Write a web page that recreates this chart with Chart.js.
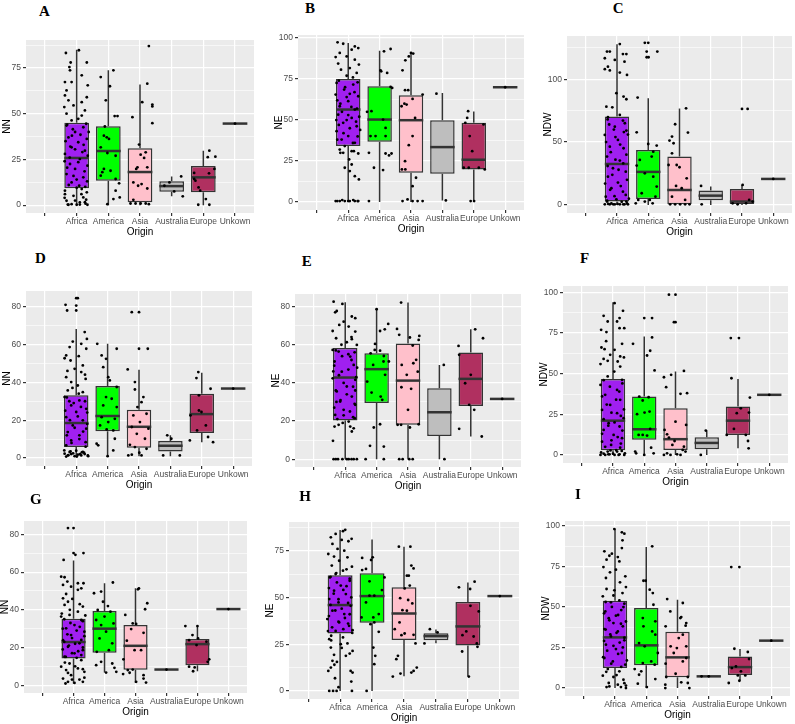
<!DOCTYPE html>
<html lang="en">
<head>
<meta charset="UTF-8">
<title>Origin boxplots</title>
<script src="https://cdn.jsdelivr.net/npm/chart.js"></script>
<style>
  body { margin: 0; background: #fff; }
  #wrap { position: relative; width: 795px; height: 724px; overflow: hidden; }
  #wrap canvas { position: absolute; }
  .tag {
    position: absolute;
    font-family: "Liberation Serif", "Times New Roman", serif;
    font-weight: bold;
    font-size: 15px;
    line-height: 15px;
    color: #000;
  }
</style>
</head>
<body>
<div id="wrap"></div>
<script>
const categories = ['', 'Africa', 'America', 'Asia', 'Australia', 'Europe', 'Unkown'];
const boxFill = ['#a020f0', '#00ff00', '#ffc0cb', '#bebebe', '#b03060', '#333333'];

// each box row: [lower whisker, q1, median, q3, upper whisker], order Africa..Unkown
// each point: [jitter offset from the category, value]

// A - NN
const boxA = [[0, 9.3, 25.8, 45, 85], [0, 13.4, 29.6, 43.2, 73.7], [0, 1.6, 18.1, 31.1, 66], [4.8, 7.3, 10.4, 13, 15.7], [0, 7, 15.2, 21.4, 29.8], [44.6, 44.6, 44.6, 44.6, 44.6]];
const ptsA = [
  [[-.34,83.2],[.07,84.7],[-.19,78],[.32,78],[-.23,75.5],[-.21,73.7],[.16,71],[-.37,67.3],[-.16,67.3],[.35,65.5],[-.32,62.7],[-.37,60],[.32,59],[-.26,57.3],[.16,56.3],[-.1,54.5],[-.39,53.6],[.26,51.8],[-.32,50],[.16,49],[-.16,46.3],[.05,47.2],[-.32,43.5],[.21,42.6],[-.05,40],[-.26,37],[.32,36.2],[.05,34.4],[-.16,31.6],[.26,29.8],[-.37,28],[.1,25.2],[-.21,22.5],[.34,21.6],[-.05,19.8],[-.32,17],[.21,15.2],[-.16,12.4],[.08,10.6],[-.37,7.9],[.32,7],[-.1,5.1],[.21,4.2],[-.32,2.4],[.1,1.5],[-.26,0.2],[0,0.2],[.34,0.2],[-.16,0.5],[.26,1.6],[-.37,6],[.16,8.8],
   [-.3,44],[.3,44.5],[-.12,41.5],[.12,38.5],[-.35,35],[.22,33],[-.05,30.5],[.35,27],[-.22,26],[.05,23.5],[-.3,20.5],[.25,18.5],[-.1,16],[.33,13],[-.25,11],[0,9.5],[-.38,4],[.3,3],[-.05,2.5],[.15,6],[-.28,0.3],[.1,0.3],[.28,0.8],[-.15,38],[.18,29],[-.38,24],[.38,40],[0,14],[-.2,32],[.27,10]],
  [[-.24,70],[.16,73.7],[-.08,57.3],[.05,65],[.2,48.7],[.29,48.7],[-.11,43],[-.14,38],[-.05,37.1],[.02,36.2],[-.24,31.6],[-.03,28.5],[.23,27],[-.14,19.8],[.07,18.8],[-.24,16.1],[.23,14.3],[.34,11.9],[-.19,18],[.23,7.9],[.16,3.3],[.36,4.2],[-.03,0.5]],
  [[.28,87],[.23,66.4],[.39,55],[.39,54],[.07,56.3],[-.24,48.1],[.39,44.8],[-.03,33.1],[.02,27.6],[.18,28.9],[.13,25.8],[-.08,20.7],[-.12,19.8],[.23,20.7],[-.21,12.4],[.05,11.5],[-.06,10.6],[.23,9.1],[-.3,0.9],[-.14,0.9],[.02,0.9],[.18,0.9],[.28,0.5],[-.21,2.9]],
  [[-.23,10.6],[.3,15.7],[.35,4.8],[-.07,12.4],[.08,7.5]],
  [[-.16,0.2],[.19,0.2],[.08,3.3],[-.29,17.6],[-.25,13.4],[-.15,9.7],[-.1,7.9],[.18,17.4],[.19,29.8],[.38,26.5],[.14,26.2],[.35,19.8],[-.29,14.3]],
  [[0,44.6]]
];

// B - NE
const boxB = [[0, 34.1, 56.4, 75, 97], [0, 36.7, 50.3, 70.6, 92.3], [0, 17.8, 49.9, 65.1, 90.9], [1, 17.2, 33.5, 49.9, 66.5], [0, 19.9, 25.8, 48.3, 55.2], [70, 70, 70, 70, 70]];
const ptsB = [
  [[-.34,97.4],[-.16,96.5],[.21,94.9],[.32,93.9],[.11,92.9],[-.27,90.9],[-.4,88.4],[-.05,88.8],[.21,86.8],[-.32,84.4],[.34,83.8],[.05,81.7],[-.23,80.7],[.27,78.7],[-.37,72.6],[.16,71.6],[-.13,68.6],[-.4,65.5],[.32,64.5],[0,61.5],[-.27,58.4],[.21,56.4],[-.32,53.3],[.11,51.3],[-.16,48.3],[.27,46.2],[-.37,43.2],[0,40.2],[-.21,38.1],[.21,36.1],[-.11,34.1],[-.27,32],[.11,31],[-.16,30],[.32,29.6],[.03,26],[.11,22.9],[-.11,20.9],[.21,15.8],[.34,13.8],[.05,18.9],[-.4,0.6],[-.27,0.6],[-.11,0.6],[.05,0.6],[.21,0.6],[.32,0.6],[-.19,1.2],[.16,1.2],
   [-.3,74],[.3,73],[-.1,70],[.2,67],[-.35,62],[.1,58],[-.2,55],[.35,52],[-.05,50],[.25,49],[-.3,47],[.05,45],[-.15,42],[.3,40],[-.35,38],[.15,36],[-.05,64],[.05,66],[-.25,60],[.28,57],[.38,44],[-.38,50],[0,53],[.18,31],[-.25,30],[.3,0.6],[-.35,0.6],[0,0.6],[-.05,77],[.15,76]],
  [[.35,93.3],[.14,91.9],[.03,80.3],[.24,78.7],[.05,79.7],[.35,70.2],[.4,69.6],[-.26,55.4],[-.4,55],[.11,50.3],[-.29,40.2],[-.13,40.2],[.19,45.2],[.19,40.2],[-.34,30],[.19,29.6],[.3,28.4],[.38,29.6],[-.18,20.9],[.11,19.5],[-.34,0.6]],
  [[-.18,86.4],[-.07,88.8],[0,90.9],[.07,90.5],[-.27,80.3],[-.09,68.2],[-.19,68.2],[-.3,58.4],[-.21,60],[-.14,59.4],[.05,62.9],[.37,65.5],[.13,51.3],[.05,40.2],[-.07,34.7],[-.19,24.9],[-.29,19.9],[-.18,19.9],[.05,9.7],[.16,14.8],[-.27,0.6],[-.11,1.6],[.05,0.6],[.21,0.6],[.37,0.6]],
  [[-.19,66.1],[.11,1]],
  [[-.18,55.4],[-.21,51.3],[-.27,48.3],[-.13,40.2],[-.05,31],[-.16,20.9],[-.32,20.9],[.16,20.9],[.35,19.9],[.31,47.3],[-.1,0.6],[.01,0.6]],
  [[0,70]]
];

// C - NDW
const boxC = [[0, 2.7, 32.6, 70.3, 127.9], [0, 4.8, 26.3, 43.8, 84.9], [0, 0, 11.9, 38.5, 76.7], [0, 3.7, 7.4, 11.4, 14.6], [0, 0.8, 2.7, 12.7, 15.9], [20.7, 20.7, 20.7, 20.7, 20.7]];
const ptsC = [
  [[-.32,122],[-.23,122],[.09,128],[.19,120],[.3,120],[-.39,116.7],[-.07,115.4],[.24,114],[-.29,110],[-.39,108],[-.23,107],[.09,105.3],[.32,103.4],[-.02,88.9],[.21,86.2],[.3,84.1],[-.34,78.2],[-.15,77.7],[.09,71.6],[-.29,69.8],[.19,67.1],[-.07,62.3],[.3,59.2],[-.39,55.7],[.03,51.7],[-.23,46.4],[.21,45.1],[-.32,38.5],[.09,35.3],[-.13,29.2],[.28,26.5],[-.29,22.5],[.03,17.8],[-.18,13.3],[.19,10.6],[-.36,6.6],[-.02,4.5],[-.32,2.7],[.3,2.7],[-.39,0.5],[-.23,0.5],[-.07,0.5],[.09,0.5],[.24,0.5],[.35,0.5],[-.18,1.3],
   [-.3,68],[.25,65],[-.1,60],[.35,56],[-.35,50],[.1,48],[-.2,42],[.3,40],[-.05,36],[.2,33],[-.3,31],[.05,28],[-.15,24],[.32,20],[-.38,17],[.12,15],[-.22,12],[.28,8],[-.08,7],[.38,5],[-.32,3.5],[.15,2.5],[-.12,0.5],[.02,0.8],[.32,1.2],[-.28,0.8],[.2,0.5],[-.05,54],[.22,58],[-.25,64]],
  [[-.11,129],[0,129],[-.05,122],[.29,122],[-.05,117.5],[.01,117.5],[-.34,85.4],[-.37,57.8],[0,48.5],[.27,47.2],[.16,42.4],[.11,38.5],[-.27,35.8],[-.37,31.3],[-.11,25.2],[.16,22.5],[.27,14.6],[-.21,9.3],[.23,6.6],[-.32,4],[-.11,2.7],[.05,4],[-.4,1.3],[.14,1.3]],
  [[.21,76.9],[-.14,64.2],[-.32,51.2],[-.24,54.4],[-.19,49.1],[.27,57.6],[-.24,41.1],[-.09,31.8],[0,30],[-.35,31.8],[.23,21.2],[-.11,15.1],[.07,13.3],[-.24,6.6],[.18,4],[-.3,0.5],[-.14,0.5],[.02,0.5],[.18,0.5],[.32,0.5]],
  [[-.31,15.1],[-.29,0.5]],
  [[0,76.4],[.18,76.4],[.02,15.9],[-.3,1.3],[-.14,0.5],[.23,4],[.34,2.7],[.13,1.3]],
  [[0,20.7]]
];

// D - NN
const boxD = [[0.8, 5.8, 18.5, 33.2, 68.2], [1, 14.2, 22.2, 38, 60.3], [1, 5.5, 16.5, 25.5, 46.6], [1, 3.5, 6.5, 9, 12], [8.4, 13.2, 23.2, 33.9, 45], [36.7, 36.7, 36.7, 36.7, 36.7]];
const ptsD = [
  [[0,84.4],[.05,84.4],[0,80.5],[0,77.9],[-.34,80.9],[-.29,77.9],[.27,66.5],[.34,62.9],[-.11,61.5],[.16,60.3],[-.21,58.6],[.32,57.7],[-.32,54.2],[.08,53.8],[-.18,51.5],[-.37,52.7],[.21,48.9],[-.05,47.1],[.16,45.4],[-.32,42.7],[.3,41.8],[-.16,40.1],[.05,38.3],[-.27,35.7],[.21,34.8],[-.37,32.2],[.1,30.4],[-.16,27.8],[.32,26],[0,24.3],[-.32,21.6],[.21,19.9],[-.11,17.2],[.32,15.5],[-.27,13.7],[.1,12],[-.16,9.3],[.3,8.4],[-.32,6.7],[-.37,2.3],[-.27,1.4],[-.16,2.1],[-.05,1],[.05,1.8],[.16,1.4],[.27,2.1],[.37,1.4],[-.21,3.2],[.21,3.2],[0,3.9],
   [-.3,32],[.28,30],[-.08,29],[.15,27],[-.35,25],[.05,22],[-.2,20],[.35,18],[-.05,16],[.22,14],[-.3,12],[.1,10],[-.15,8],[.3,6],[-.38,4],[.18,3],[-.1,2.5],[.38,1],[-.25,1.5],[.02,0.8],[.12,2],[-.32,0.8],[.25,2.8],[-.18,3.5],[.35,24],[-.22,30],[.08,34],[-.12,37],[.28,44],[-.28,46]],
  [[-.33,60.3],[.29,57.7],[-.19,54.2],[-.05,52.4],[-.14,48],[.02,42.7],[.07,41],[.29,37.5],[-.05,32.2],[.13,31.3],[.29,26.9],[-.14,27.8],[-.19,21.6],[.23,20.7],[-.24,17.2],[.02,19],[.18,14.6],[-.03,15.1],[-.35,7.6],[-.3,6.7],[.18,4],[.23,10.2],[0,1]],
  [[-.23,77],[0,77],[0,57.7],[.28,57.7],[-.36,46.8],[-.13,40.1],[-.13,36.2],[.14,32.2],[.08,29.5],[-.05,26.9],[-.18,22.5],[.24,23.4],[.03,19],[-.23,16.4],[.3,15.5],[-.07,12.8],[.19,10.2],[-.29,7],[-.13,5.8],[.24,4.9],[-.34,1.4],[-.23,1.8],[.08,1.4],[.01,2.8]],
  [[-.23,1.4],[.3,1.4],[-.1,12],[.03,10.2]],
  [[-.11,45.4],[-.17,42.2],[.28,36.6],[-.09,33.1],[-.36,22.5],[-.09,25.1],[-.01,24.3],[-.15,14.6],[.13,17.2],[.2,11.1],[-.38,9.3],[.36,8.4]],
  [[0,36.7]]
];

// E - NE
const boxE = [[0, 20.3, 42.8, 58.3, 82.3], [0, 29.5, 47.2, 55.5, 79.1], [0, 18, 41.2, 60.6, 82.1], [0, 12.2, 24.6, 37.2, 49.4], [11.9, 27.9, 42.1, 55.9, 68.1], [31.6, 31.6, 31.6, 31.6, 31.6]];
const ptsE = [
  [[-.37,82.6],[-.09,81.4],[-.32,77],[-.27,77.7],[.21,74.8],[.32,73.9],[-.05,72.1],[-.19,70.4],[.11,69.5],[-.4,67.2],[.32,66.9],[-.29,63.4],[.21,62.9],[.05,61.3],[-.4,57.3],[.37,59.9],[-.21,56.4],[.16,53.8],[-.34,51.2],[.27,49.4],[-.11,45.9],[-.4,42.4],[.32,41.6],[.05,38.1],[-.27,35.5],[.21,32.8],[-.16,30.2],[.32,28.5],[-.05,25.9],[-.32,23.2],[.3,21.5],[.11,19.7],[-.21,18],[.16,17.1],[.27,16.2],[-.34,17.1],[.21,14.5],[-.39,9.6],[-.37,0],[-.23,0],[-.09,0],[.11,0],[.27,0],[.37,0],
   [-.3,57],[.3,56],[-.1,54],[.2,52],[-.35,49],[.1,47],[-.2,44],[.35,43],[-.05,40],[.25,38],[-.3,36],[.05,34],[-.15,31],[.3,29],[-.35,27],[.15,25],[-.05,23],[.25,22],[-.25,21],[.1,55],[-.38,46],[.38,48],[-.12,60],[.2,64],[-.28,30],[.05,0],[.2,0],[-.3,0],[.32,36],[-.08,19]],
  [[0,78.6],[.37,70.9],[.26,68.1],[.11,67.2],[-.05,60.4],[-.19,55.5],[-.06,57.3],[.11,56.9],[.23,54.1],[.39,51.2],[-.11,49.4],[.22,51.2],[.27,44.2],[-.3,40.7],[-.16,34.9],[.13,32.8],[.18,31.1],[-.09,16.6],[.11,18.3],[-.21,7],[.23,6.6],[-.35,0],[.23,0]],
  [[-.22,82.1],[-.35,68.3],[-.28,65.2],[.06,63.8],[.36,64.6],[.34,62.5],[.15,59.6],[.26,52.1],[.17,50.3],[.31,45.9],[-.2,49.4],[-.04,44.2],[-.21,37.7],[.1,36.9],[0,25.9],[-.33,18],[-.22,18],[.34,18.3],[.06,16.6],[-.28,0],[-.17,0],[.04,0],[.15,0]],
  [[.14,49.4],[.16,0]],
  [[-.39,59.4],[-.37,54.7],[.14,68.1],[.39,63.4],[0,44.2],[-.18,39.8],[-.05,28.5],[.11,25.9],[-.37,15.9],[.35,11.9]],
  [[0,31.6]]
];

// F - NDW
const boxF = [[0, 2.9, 21.1, 46.8, 94], [0, 9.4, 15.8, 35.9, 72.9], [0, 3.1, 9.7, 28.7, 51.3], [0, 3.5, 7.4, 10.9, 15], [4.1, 12.3, 21.1, 29.8, 46.8], [37, 37, 37, 37, 37]];
const ptsF = [
  [[.05,93.4],[.32,88.7],[-.3,85.6],[.21,84.2],[.13,82.1],[-.17,82.1],[-.38,77],[.36,78],[.21,78],[-.21,75.6],[-.37,66.1],[-.27,65.1],[.29,68.4],[.05,64.7],[-.09,61.6],[.23,60.6],[-.3,59.1],[-.17,57.9],[.15,57.5],[-.4,55.9],[.23,54.4],[.04,51.3],[-.17,48.3],[.29,46.2],[-.4,43.1],[.13,40],[-.25,37],[.23,33.9],[-.09,30.8],[-.35,27.7],[.13,25.7],[.34,22.6],[-.14,19.5],[.21,17.5],[-.3,15.4],[.02,12.3],[.29,10.3],[-.35,8.2],[-.06,6.2],[.23,4.5],[-.4,0],[-.25,0],[-.11,0.4],[.05,0],[.21,0.4],[.36,0],[-.17,2.1],[.13,2.1],
   [-.3,46],[.3,44],[-.1,42],[.2,39],[-.35,36],[.1,34],[-.2,31],[.35,28],[-.05,26],[.25,24],[-.3,22],[.05,20],[-.15,18],[.3,15],[-.35,13],[.15,11],[-.05,9],[.25,7],[-.25,5],[.1,3],[-.38,1.5],[.38,1],[-.15,0.4],[0,0.8],[.18,0],[-.3,0.8],[.28,2.5],[-.08,2.8],[.35,60],[-.22,70]],
  [[0,84.2],[.25,84.2],[.25,72.3],[-.36,68.4],[.19,64.1],[.09,61.2],[.33,52],[-.05,33.5],[.14,35.5],[-.16,35.9],[.17,26.7],[.01,26.1],[-.23,25.1],[-.05,12.3],[.09,11.9],[-.18,12.3],[.19,16],[-.29,2.1],[-.26,1],[.22,4.5],[.3,1],[0,0]],
  [[-.21,98.6],[0,98.6],[-.05,81.7],[0,81.7],[-.37,47.8],[-.3,41.7],[-.14,49.3],[.27,51.7],[.16,37.6],[.37,38],[0,20.5],[.34,18.5],[-.35,15.4],[-.27,12.7],[-.21,10.7],[-.1,6.2],[-.03,8.6],[.27,5.1],[.23,3.1],[.32,2.1],[-.37,0],[-.27,1],[-.16,0],[.05,0.4],[.16,0]],
  [[-.19,0],[-.03,15]],
  [[-.23,71.9],[.03,71.9],[-.21,47.2],[-.36,12.3],[-.13,16],[-.04,25.7],[.09,28.7],[.35,26.1],[.38,35.3],[.25,12.3],[.32,8.6],[.34,4.1]],
  [[0,37]]
];

// G - NN
const boxG = [[0.9, 14.2, 22.9, 35.3, 66.2], [6.7, 17.2, 30, 39.4, 54.1], [1.2, 8.2, 20.9, 31.9, 51.4], [8.3, 8.3, 8.3, 8.3, 8.3], [7.4, 10.6, 21.8, 24.5, 31.4], [40.4, 40.4, 40.4, 40.4, 40.4]];
const ptsG = [
  [[-.18,83.4],[0,83.4],[0,70.1],[.06,69.2],[.32,70.1],[-.32,66.5],[-.4,57.6],[-.29,57.3],[-.2,55],[-.34,53.2],[.14,54.1],[.32,54.1],[-.08,52.3],[.25,51.4],[.14,50.6],[-.24,48.4],[-.34,46.1],[-.04,45.8],[-.18,44.3],[.3,41.7],[-.29,42.6],[.14,39],[-.13,37.3],[-.4,36.4],[.25,34.6],[.03,31.9],[-.24,30.2],[.35,28.4],[-.08,26.6],[-.34,23.9],[.19,22.2],[-.18,20.4],[.3,18.6],[.03,16.9],[-.29,15.1],[.25,13.3],[-.13,11.5],[-.4,9.8],[.14,8.9],[-.24,8],[.35,7.1],[-.08,5.3],[-.34,3.5],[.19,3],[-.18,1.8],[.03,1.2],[.3,1.8],[-.26,0.9],
   [-.3,35],[.3,34],[-.1,33],[.2,31],[-.35,30],[.1,29],[-.2,27],[.35,26],[-.05,25],[.25,24],[-.3,23],[.05,22],[-.15,21],[.3,20],[-.35,19],[.15,18],[-.05,17],[.25,16],[-.25,15],[.1,14.5],[-.38,38],[.38,37],[-.12,40],[.2,43],[-.28,12],[.05,10],[.3,8.5],[-.18,6.5],[.35,4],[-.05,3]],
  [[-.34,48.8],[-.11,49.7],[.27,54.5],[-.05,44.3],[.11,42],[-.22,39.9],[.19,39],[0,36.4],[-.27,34.6],[-.11,31.9],[.29,32.8],[.05,28.4],[-.16,24.8],[.25,22.2],[-.25,17.7],[.14,18.6],[-.11,12.4],[-.27,10.6],[.25,11.5],[.05,6.7],[.32,9.2],[.38,7.1]],
  [[.11,51.4],[.08,50.9],[.38,43.5],[.31,40.3],[-.33,37.3],[-.09,32.8],[.02,32.5],[-.14,29.8],[.26,27.8],[-.28,23.6],[-.03,18.6],[-.39,13.7],[.18,18.6],[-.25,8],[-.09,8.3],[-.4,5.9],[-.19,6.6],[.26,5.3],[.26,3.5],[.02,1.8],[.34,1.4]],
  [[0,8.3]],
  [[-.39,31.4],[0,31.4],[-.16,26.6],[.02,24.8],[-.27,23.9],[.29,23.1],[-.03,21.3],[.33,12.4],[.38,13.7],[-.27,9.8],[-.14,7.4],[-.09,9.4]],
  [[0,40.4]]
];

// H - NE
const boxH = [[0, 30.7, 45.9, 61.8, 86], [0, 36.4, 50.7, 62.9, 81], [7.9, 27.3, 41.4, 55.4, 77.1], [25.5, 27.1, 29.3, 30.9, 32.9], [7.7, 24.3, 34.5, 47.5, 58], [50.7, 50.7, 50.7, 50.7, 50.7]];
const ptsH = [
  [[-.14,83.9],[.09,85.4],[.16,86.1],[-.29,82.1],[.05,80.7],[.36,81.3],[-.24,78.6],[.26,80],[-.08,75.9],[.13,75],[-.37,73.2],[-.19,71.8],[.23,71.4],[-.03,69.6],[-.26,67],[.37,66.4],[.09,64.3],[-.14,62.5],[-.32,60.7],[.3,58.9],[.02,56.3],[-.19,53.6],[.18,51.8],[-.34,49.1],[-.05,47.3],[.33,45.5],[-.24,42.9],[.13,41.1],[-.4,38.4],[-.03,36.6],[.28,34.8],[-.14,32.1],[.39,32.5],[-.28,29.5],[.09,28.6],[-.34,27.7],[.23,25.4],[.02,25],[-.29,23.2],[.39,21.4],[-.19,19.3],[.18,18.8],[-.24,16.1],[-.1,15.5],[.33,10.7],[-.37,10.7],[-.29,12.5],[-.16,6.8],[.39,9.8],[-.34,0],[-.22,0],[-.11,0],[.37,0],
   [-.3,61],[.3,60],[-.1,58],[.2,56],[-.35,55],[.1,54],[-.2,52],[.35,50],[-.05,49],[.25,47],[-.3,46],[.05,44],[-.15,43],[.3,41],[-.35,40],[.15,39],[-.05,37],[.25,36],[-.25,34],[.1,33],[-.38,32],[.38,31],[-.12,63],[.2,65],[-.28,27],[.05,23],[.3,20],[-.18,14],[.35,5],[-.05,2]],
  [[-.31,71.1],[-.03,70],[.02,71.4],[-.19,65.2],[-.31,64.6],[.39,60.7],[-.08,58.6],[.31,53.9],[-.08,50.9],[.07,50.9],[-.19,47.3],[-.33,39.3],[.04,39.3],[.21,41.1],[-.05,35.7],[.07,36.6],[.21,31.6],[.04,23.2],[.1,18.8],[.07,14.3],[-.17,0]],
  [[-.16,77.1],[.2,77.1],[.09,61.6],[.15,61.6],[.23,67],[.3,65.5],[-.12,49.6],[.13,48.6],[.02,54.8],[.18,56.3],[-.05,43.2],[.09,42.9],[.26,46.8],[-.14,36.6],[-.29,33],[-.08,29.8],[.02,30.7],[.3,30],[.36,25.4],[-.19,18.8],[-.24,17],[-.11,9.3],[-.35,7.7],[.23,9.8],[.3,10.7],[.4,12.5]],
  [[-.36,25.4],[-.19,33],[.05,31.3]],
  [[-.28,55.4],[.21,58.4],[.07,54.5],[.08,45.5],[.34,42.5],[-.17,29.8],[-.05,31.8],[.18,29.1],[.28,25.4],[.3,23.6],[-.18,21.1],[.03,7.7]],
  [[0,50.7]]
];

// I - NDW
const boxI = [[0, 12.3, 31.2, 53.8, 97.9], [0, 14, 26.3, 49.3, 86.9], [0, 6.6, 18.9, 34.7, 54.4], [7.2, 7.2, 7.2, 7.2, 7.2], [4.5, 8, 12.9, 19.5, 24], [29.2, 29.2, 29.2, 29.2, 29.2]];
const ptsI = [
  [[-.02,97.9],[.22,95.9],[.3,95.1],[.24,91],[.22,86.2],[-.34,84.2],[-.1,82.8],[-.18,81.5],[.09,80.7],[-.27,79.1],[.14,78],[-.37,74.5],[.03,72.9],[-.16,71.3],[.33,68.8],[-.29,67.8],[.16,65.1],[.35,62.2],[-.27,61],[-.02,60.2],[.24,58.5],[-.39,56.5],[.14,54],[-.13,52.8],[.27,49.9],[-.31,47.2],[.03,44.6],[-.18,41.7],[.19,39.6],[-.34,36.3],[.09,34.9],[-.13,31.8],[.3,29.4],[-.29,26.7],[.03,24],[.22,21.6],[-.34,18.5],[-.07,16.4],[.33,14.4],[-.23,11.7],[.14,10.3],[-.39,7.6],[-.05,6.8],[.27,5.1],[-.2,3.1],[.09,2.1],[-.27,0.6],[.19,0.6],[.35,0],
   [-.3,53],[.3,52],[-.1,50],[.2,48],[-.35,46],[.1,45],[-.2,43],[.35,41],[-.05,40],[.25,38],[-.3,36],[.05,34],[-.15,33],[.3,31],[-.35,29],[.15,28],[-.05,26],[.25,25],[-.25,23],[.1,21],[-.38,19],[.38,17],[-.12,15],[.2,13],[-.28,10],[.05,8],[.3,3],[-.18,1],[.35,1.5],[-.05,57]],
  [[.19,87.3],[-.09,66.1],[-.02,66.1],[.11,60.6],[.21,58.5],[.23,51.3],[-.11,43.1],[.29,41.1],[-.09,38],[.19,34.9],[.29,32.9],[-.23,27.7],[-.05,25.7],[.37,21.6],[.16,16.4],[-.11,15.4],[.27,14.4],[-.37,11.7],[-.16,10.3],[-.23,8.2],[.29,5.5],[-.27,2.7],[.02,0.6]],
  [[-.33,54.8],[.17,52.4],[-.23,47.2],[.12,43.7],[.09,43.1],[.26,38.4],[.28,40],[-.38,38],[.17,32.9],[.04,30.8],[-.22,25.7],[.28,25.7],[-.02,24.6],[-.12,21.6],[.28,18.5],[.17,16.4],[-.38,15],[-.06,8.8],[-.36,6.8],[.33,6.8],[.12,3.5],[-.39,2.1],[-.39,0],[.38,0],[.33,3.1]],
  [[0,7.2],[-.23,7.2]],
  [[-.28,74.5],[-.02,74.5],[-.18,24.2],[.25,22.2],[.29,17.9],[-.36,3.1],[-.02,4.5],[.03,10.3],[-.07,7.8],[.17,7.8],[-.13,13.3],[-.26,12.3]],
  [[0,29.2]]
];

// panel rect = [left, top, right, bottom] of the grey plotting area
const panels = [
  { tag: 'A', yTitle: 'NN',  box: boxA, pts: ptsA, yTicks: [0, 25, 50, 75],      yRange: [-4.3, 90.3],   rect: [26, 39.5, 254, 212],      tagPos: [39, 4] },
  { tag: 'B', yTitle: 'NE',  box: boxB, pts: ptsB, yTicks: [0, 25, 50, 75, 100], yRange: [-4.85, 101.85], rect: [297.7, 35.4, 523.8, 210.7], tagPos: [305, 1] },
  { tag: 'C', yTitle: 'NDW', box: boxC, pts: ptsC, yTicks: [0, 50, 100],         yRange: [-6.4, 134.4],  rect: [566.9, 36, 792, 213],     tagPos: [612.7, 1] },
  { tag: 'D', yTitle: 'NN',  box: boxD, pts: ptsD, yTicks: [0, 20, 40, 60, 80],  yRange: [-4.2, 88.2],   rect: [26, 290.5, 252, 465.7],   tagPos: [35, 250.7] },
  { tag: 'E', yTitle: 'NE',  box: boxE, pts: ptsE, yTicks: [0, 20, 40, 60, 80],  yRange: [-4.1, 86.6],   rect: [294.9, 294, 520.4, 467.1], tagPos: [301.7, 254] },
  { tag: 'F', yTitle: 'NDW', box: boxF, pts: ptsF, yTicks: [0, 25, 50, 75, 100], yRange: [-4.95, 103.95], rect: [562.9, 286.3, 787.7, 463], tagPos: [580, 250.7] },
  { tag: 'G', yTitle: 'NN',  box: boxG, pts: ptsG, yTicks: [0, 20, 40, 60, 80],  yRange: [-4.15, 87.15], rect: [24, 521, 247.3, 692.8],   tagPos: [30, 492.4] },
  { tag: 'H', yTitle: 'NE',  box: boxH, pts: ptsH, yTicks: [0, 25, 50, 75],      yRange: [-4.3, 90.3],   rect: [288.5, 521.5, 518.1, 698], tagPos: [299.3, 489] },
  { tag: 'I', yTitle: 'NDW', box: boxI, pts: ptsI, yTicks: [0, 25, 50, 75, 100], yRange: [-4.9, 102.9],  rect: [565.2, 521.3, 790.4, 696.3], tagPos: [575, 487.4] }
];

const PAD_L = 30, PAD_T = 8, PAD_R = 6, PAD_B = 26;

Chart.defaults.font.family = "'Liberation Sans', Arial, sans-serif";

// grey panel, whiskers and medians (ggplot style)
const boxPlugin = {
  id: 'boxes',
  beforeDraw(chart) {
    const a = chart.chartArea, c = chart.ctx;
    c.save();
    c.fillStyle = '#ebebeb';
    c.fillRect(a.left, a.top, a.right - a.left, a.bottom - a.top);
    c.restore();
  },
  beforeDatasetsDraw(chart, args, opts) {
    const c = chart.ctx, x = chart.scales.x, y = chart.scales.y;
    c.save();
    c.strokeStyle = '#333';
    c.lineWidth = 1.5;
    opts.stats.forEach((s, i) => {
      const px = x.getPixelForValue(i + 2);
      c.beginPath();
      c.moveTo(px, y.getPixelForValue(s[0]));
      c.lineTo(px, y.getPixelForValue(s[1]));
      c.moveTo(px, y.getPixelForValue(s[3]));
      c.lineTo(px, y.getPixelForValue(s[4]));
      c.stroke();
    });
    c.restore();
  },
  afterDatasetDraw(chart, args, opts) {
    if (args.index !== 0) return;
    const c = chart.ctx, y = chart.scales.y;
    c.save();
    c.strokeStyle = '#333';
    c.lineWidth = 2.5;
    args.meta.data.forEach((bar, i) => {
      const py = y.getPixelForValue(opts.stats[i][2]);
      c.beginPath();
      c.moveTo(bar.x - bar.width / 2, py);
      c.lineTo(bar.x + bar.width / 2, py);
      c.stroke();
    });
    c.restore();
  }
};

const wrap = document.getElementById('wrap');

panels.forEach(p => {
  const [l, t, r, b] = p.rect;
  const cv = document.createElement('canvas');
  const w = Math.round(r - l) + PAD_L + PAD_R;
  const h = Math.round(b - t) + PAD_T + PAD_B;
  cv.width = w;
  cv.height = h;
  cv.style.left = Math.round(l - PAD_L) + 'px';
  cv.style.top = Math.round(t - PAD_T) + 'px';
  wrap.appendChild(cv);

  const tag = document.createElement('div');
  tag.className = 'tag';
  tag.textContent = p.tag;
  tag.style.left = p.tagPos[0] + 'px';
  tag.style.top = p.tagPos[1] + 'px';
  wrap.appendChild(tag);

  const step = p.yTicks[1] - p.yTicks[0];
  const minor = [];
  for (let v = p.yTicks[0] + step / 2; v < p.yRange[1]; v += step) minor.push(v);
  const isMajor = v => p.yTicks.includes(v);

  new Chart(cv, {
    type: 'bar',
    data: {
      datasets: [
        {
          type: 'bar',
          data: p.box.map((s, i) => ({ x: i + 2, y: [s[1], s[3]] })),
          backgroundColor: boxFill,
          borderColor: '#333',
          borderWidth: 1.5,
          borderSkipped: false,
          barPercentage: 0.78,
          categoryPercentage: 1,
          order: 1
        },
        {
          type: 'scatter',
          data: p.pts.flatMap((g, i) => g.map(([dx, v]) => ({ x: i + 2 + dx, y: v }))),
          pointRadius: 1.4,
          pointBorderWidth: 0,
          pointBackgroundColor: '#000',
          order: 0
        }
      ]
    },
    options: {
      responsive: false,
      animation: false,
      devicePixelRatio: 1,
      layout: { padding: { top: PAD_T, right: PAD_R, left: 0, bottom: 0 } },
      plugins: {
        legend: { display: false },
        tooltip: { enabled: false },
        boxes: { stats: p.box }
      },
      scales: {
        x: {
          type: 'linear',
          min: 0.4,
          max: 7.6,
          offset: false,
          afterBuildTicks: s => { s.ticks = categories.map((_, i) => ({ value: i + 1 })); },
          afterFit: s => { s.height = PAD_B; },
          ticks: {
            autoSkip: false, maxRotation: 0, minRotation: 0, padding: 1,
            color: '#4d4d4d', font: { size: 8.5 },
            callback: v => categories[v - 1]
          },
          grid: { offset: false, color: '#fff', lineWidth: 1.2, tickLength: 3, tickColor: '#333' },
          border: { display: false },
          title: { display: true, text: 'Origin', color: '#000', font: { size: 10 }, padding: { top: 0, bottom: 1 } }
        },
        y: {
          min: p.yRange[0],
          max: p.yRange[1],
          afterBuildTicks: s => { s.ticks = [...p.yTicks, ...minor].sort((a, c) => a - c).map(v => ({ value: v })); },
          afterFit: s => { s.width = PAD_L; },
          ticks: {
            autoSkip: false, padding: 2, color: '#4d4d4d', font: { size: 8.5 },
            callback: v => isMajor(v) ? v : ''
          },
          grid: {
            color: '#fff',
            lineWidth: c => isMajor(c.tick.value) ? 1.2 : 0.6,
            tickLength: 3,
            tickColor: c => isMajor(c.tick.value) ? '#333' : 'rgba(0,0,0,0)'
          },
          border: { display: false },
          title: { display: true, text: p.yTitle, color: '#000', font: { size: 10 }, padding: { top: 5, bottom: 0 } }
        }
      }
    },
    plugins: [boxPlugin]
  });
});
</script>
</body>
</html>
